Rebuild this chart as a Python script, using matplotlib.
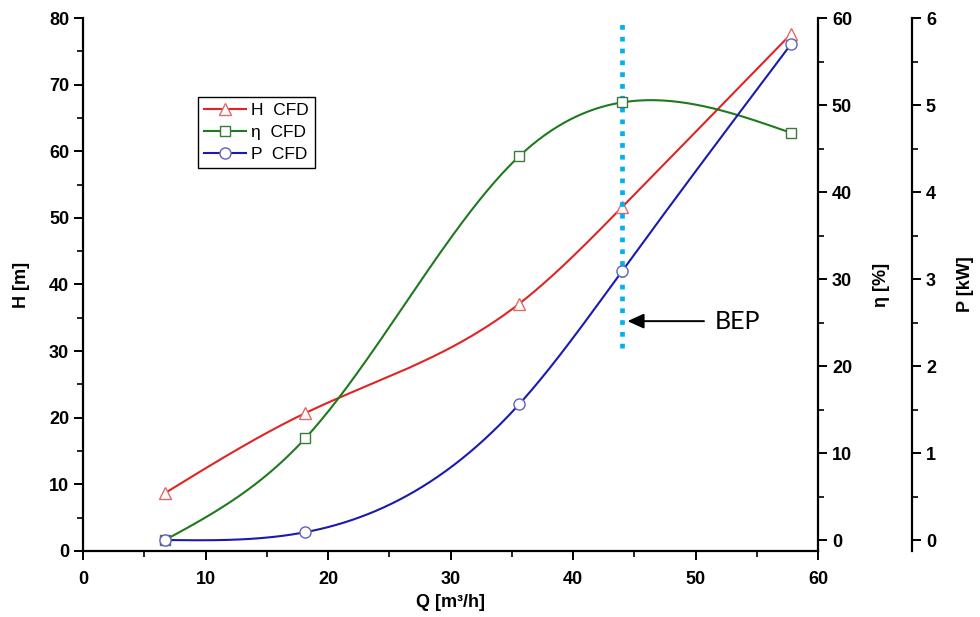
import numpy as np
import matplotlib
matplotlib.use("Agg")
import matplotlib.pyplot as plt
from matplotlib.ticker import MultipleLocator
from matplotlib.lines import Line2D

plt.rcParams['font.family'] = ['Liberation Sans', 'DejaVu Sans']

# data
q = [6.7, 18.15, 35.6, 44.0, 57.8]          # Q [m3/h]
head = [8.7, 20.7, 37.1, 51.6, 77.6]        # H [m]
eff = [0.0, 11.7, 44.1, 50.3, 46.8]         # eta [%]
power = [0.0, 0.09, 1.56, 3.09, 5.70]       # P [kW]
bep_q = 44.0
bep_span = [30.5, 79.3]                     # on the H scale


def natural_spline(x, y, xs):
    # natural cubic spline, like Origin's "spline" line connection
    x = np.asarray(x, float)
    y = np.asarray(y, float)
    n = len(x)
    h = np.diff(x)
    A = np.zeros((n, n))
    rhs = np.zeros(n)
    A[0, 0] = A[-1, -1] = 1.0
    for i in range(1, n - 1):
        A[i, i - 1] = h[i - 1]
        A[i, i] = 2 * (h[i - 1] + h[i])
        A[i, i + 1] = h[i]
        rhs[i] = 3 * ((y[i + 1] - y[i]) / h[i] - (y[i] - y[i - 1]) / h[i - 1])
    c = np.linalg.solve(A, rhs)
    b = (y[1:] - y[:-1]) / h - h * (2 * c[:-1] + c[1:]) / 3
    d = (c[1:] - c[:-1]) / (3 * h)
    idx = np.clip(np.searchsorted(x, xs) - 1, 0, n - 2)
    t = xs - x[idx]
    return y[idx] + b[idx] * t + c[idx] * t ** 2 + d[idx] * t ** 3


xs = np.linspace(q[0], q[-1], 400)

fig = plt.figure(figsize=(9.8, 6.17), dpi=100)
ax = fig.add_axes([0.0847, 0.1070, 0.75, 0.8638])
ax2 = ax.twinx()
ax3 = ax.twinx()

label_font = dict(fontsize=13, fontweight='bold')

ax.plot(xs, natural_spline(q, head, xs), color='#e02424', lw=1.5)
ax.plot(q, head, ls='none', marker='^', ms=8, mfc='white', mec='#e06a6a', mew=1.0)
ax2.plot(xs, natural_spline(q, eff, xs), color='#1f7a1f', lw=1.5)
ax2.plot(q, eff, ls='none', marker='s', ms=7, mfc='white', mec='#3c7a3c', mew=1.0)
ax3.plot(xs, natural_spline(q, power, xs), color='#1a1ab0', lw=1.5)
ax3.plot(q, power, ls='none', marker='o', ms=8, mfc='white', mec='#6060c0', mew=1.0)

# BEP marker line
ax.plot([bep_q, bep_q], bep_span, color='#00b0f0', lw=3.4, ls=(0, (1.0, 1.5)),
        dash_capstyle='butt', zorder=5)
ax.annotate('BEP', xy=(bep_q + 0.45, 34.5), xytext=(51.6, 34.5),
            fontsize=18, family=['Lato', 'DejaVu Sans'], va='center', ha='left',
            arrowprops=dict(arrowstyle='-|>,head_length=0.55,head_width=0.25',
                            color='black', lw=1.4, shrinkA=6, shrinkB=0))

ax.set_xlim(0, 60)
ax.set_ylim(0, 80)
ax2.set_ylim(-1.26, 60)
ax3.set_ylim(-0.126, 6)

ax.xaxis.set_major_locator(MultipleLocator(10))
ax.xaxis.set_minor_locator(MultipleLocator(5))
ax.yaxis.set_major_locator(MultipleLocator(10))
ax.yaxis.set_minor_locator(MultipleLocator(5))
ax2.yaxis.set_major_locator(MultipleLocator(10))
ax2.yaxis.set_minor_locator(MultipleLocator(5))
ax3.yaxis.set_major_locator(MultipleLocator(1))
ax3.yaxis.set_minor_locator(MultipleLocator(0.5))

ax.spines['top'].set_visible(False)
ax.spines['right'].set_visible(False)
for a in (ax2, ax3):
    a.spines['top'].set_visible(False)
    a.spines['left'].set_visible(False)
    a.spines['bottom'].set_visible(False)
ax3.spines['right'].set_position(('outward', 67.7))

for sp in (ax.spines['left'], ax.spines['bottom'], ax2.spines['right'], ax3.spines['right']):
    sp.set_linewidth(1.6)

for a in (ax, ax2, ax3):
    a.tick_params(which='major', direction='out', length=6.5, width=1.4)
    a.tick_params(which='minor', direction='out', length=4, width=1.2)
    for lab in a.get_xticklabels() + a.get_yticklabels():
        lab.set_fontsize(13)
        lab.set_fontweight('bold')
ax.tick_params(axis='x', pad=8)

ax.set_xlabel('Q [m³/h]', **label_font, labelpad=4)
ax.set_ylabel('H [m]', **label_font, labelpad=14)
ax2.set_ylabel('η [%]', **label_font, labelpad=15)
ax3.set_ylabel('P [kW]', **label_font, labelpad=15)

# legend handles combine line and marker
handles = [
    Line2D([], [], color='#e02424', lw=1.5, marker='^', ms=8, mfc='white', mec='#e06a6a'),
    Line2D([], [], color='#1f7a1f', lw=1.5, marker='s', ms=7, mfc='white', mec='#3c7a3c'),
    Line2D([], [], color='#1a1ab0', lw=1.5, marker='o', ms=8, mfc='white', mec='#6060c0'),
]
leg = ax.legend(handles, ['H  CFD', 'η  CFD', 'P  CFD'], loc='upper left',
                bbox_to_anchor=(0.1565, 0.852), borderaxespad=0, fontsize=12.5,
                fancybox=False, edgecolor='black', framealpha=1,
                handlelength=2.4, handletextpad=0.3, labelspacing=0.4,
                borderpad=0.35)
leg.get_frame().set_linewidth(1.0)
leg.set_zorder(10)

fig.savefig('out.png', dpi=100)
